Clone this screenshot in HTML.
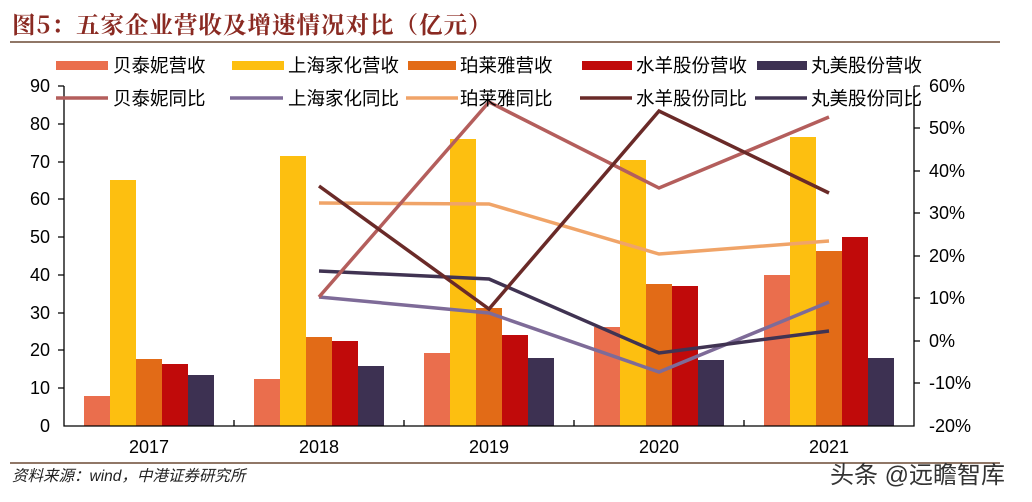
<!DOCTYPE html>
<html><head><meta charset="utf-8"><style>
body{margin:0;background:#fff;}
svg{display:block;font-family:"Liberation Sans","Noto Sans CJK SC",sans-serif;}
</style></head><body>
<svg width="1032" height="502" viewBox="0 0 1032 502">
<text x="12" y="33" font-size="23.5" font-weight="bold" fill="#8a2a22" letter-spacing="1" font-family="'Noto Serif CJK SC','Liberation Serif',serif">图5：五家企业营收及增速情况对比（亿元）</text>
<line x1="10" y1="42" x2="1000" y2="42" stroke="#6b4a35" stroke-width="1.5"/>
<line x1="10" y1="463" x2="1000" y2="463" stroke="#6b4a35" stroke-width="1.5"/>
<text x="12" y="481" font-size="15.5" font-style="italic" fill="#222">资料来源：wind，中港证券研究所</text>
<text x="830" y="483" font-size="24" fill="#333">头条 @远瞻智库</text>
<g>
<rect x="84" y="396" width="26" height="30" fill="#ea6e4d"/>
<rect x="110" y="180" width="26" height="246" fill="#fdbf10"/>
<rect x="136" y="359" width="26" height="67" fill="#e26b17"/>
<rect x="162" y="364" width="26" height="62" fill="#c00a0a"/>
<rect x="188" y="375" width="26" height="51" fill="#3d3152"/>
<rect x="254" y="379" width="26" height="47" fill="#ea6e4d"/>
<rect x="280" y="156" width="26" height="270" fill="#fdbf10"/>
<rect x="306" y="337" width="26" height="89" fill="#e26b17"/>
<rect x="332" y="341" width="26" height="85" fill="#c00a0a"/>
<rect x="358" y="366" width="26" height="60" fill="#3d3152"/>
<rect x="424" y="353" width="26" height="73" fill="#ea6e4d"/>
<rect x="450" y="139" width="26" height="287" fill="#fdbf10"/>
<rect x="476" y="308" width="26" height="118" fill="#e26b17"/>
<rect x="502" y="335" width="26" height="91" fill="#c00a0a"/>
<rect x="528" y="358" width="26" height="68" fill="#3d3152"/>
<rect x="594" y="327" width="26" height="99" fill="#ea6e4d"/>
<rect x="620" y="160" width="26" height="266" fill="#fdbf10"/>
<rect x="646" y="284" width="26" height="142" fill="#e26b17"/>
<rect x="672" y="286" width="26" height="140" fill="#c00a0a"/>
<rect x="698" y="360" width="26" height="66" fill="#3d3152"/>
<rect x="764" y="275" width="26" height="151" fill="#ea6e4d"/>
<rect x="790" y="137" width="26" height="289" fill="#fdbf10"/>
<rect x="816" y="251" width="26" height="175" fill="#e26b17"/>
<rect x="842" y="237" width="26" height="189" fill="#c00a0a"/>
<rect x="868" y="358" width="26" height="68" fill="#3d3152"/>
</g>
<g stroke="#000" stroke-width="1.3" fill="none">
<path d="M64,86 V426 H914 V86"/>
<path d="M58,86H64M58,124H64M58,162H64M58,199H64M58,237H64M58,275H64M58,313H64M58,350H64M58,388H64"/>
<path d="M914,86H920M914,128H920M914,171H920M914,213H920M914,256H920M914,298H920M914,341H920M914,383H920"/>
<path d="M234,426V420M404,426V420M574,426V420M744,426V420"/>
</g>
<g font-size="18" fill="#000" text-anchor="end">
<text x="50" y="92">90</text><text x="50" y="130">80</text><text x="50" y="168">70</text><text x="50" y="205">60</text><text x="50" y="243">50</text><text x="50" y="281">40</text><text x="50" y="319">30</text><text x="50" y="356">20</text><text x="50" y="394">10</text><text x="50" y="432">0</text>
</g>
<g font-size="18" fill="#000">
<text x="929" y="92">60%</text><text x="929" y="134">50%</text><text x="929" y="177">40%</text><text x="929" y="219">30%</text><text x="929" y="262">20%</text><text x="929" y="304">10%</text><text x="929" y="347">0%</text><text x="929" y="389">-10%</text><text x="929" y="432">-20%</text>
</g>
<g font-size="18" fill="#000" text-anchor="middle">
<text x="149" y="453">2017</text><text x="319" y="453">2018</text><text x="489" y="453">2019</text><text x="659" y="453">2020</text><text x="829" y="453">2021</text>
</g>
<g fill="none" stroke-width="3.5">
<polyline stroke="#f0a468" points="319,203 489,204 659,254 829,241"/>
<polyline stroke="#7e6b98" points="319,297 489,313 659,372 829,302"/>
<polyline stroke="#403352" points="319,271 489,279 659,353 829,331"/>
<polyline stroke="#b45e5c" points="319,297 489,102 659,188 829,117"/>
<polyline stroke="#6a2a28" points="319,186 489,309 659,111 829,193"/>
</g>
<g font-size="18.5" fill="#000">
<rect x="56" y="61" width="52" height="9" fill="#ea6e4d"/><text x="113" y="72">贝泰妮营收</text>
<rect x="232" y="61" width="52" height="9" fill="#fdbf10"/><text x="288" y="72">上海家化营收</text>
<rect x="408" y="61" width="48" height="9" fill="#e26b17"/><text x="460" y="72">珀莱雅营收</text>
<rect x="582" y="61" width="50" height="9" fill="#c00a0a"/><text x="636" y="72">水羊股份营收</text>
<rect x="757" y="61" width="50" height="9" fill="#3d3152"/><text x="811" y="72">丸美股份营收</text>
<line x1="56" y1="98" x2="108" y2="98" stroke="#b45e5c" stroke-width="3.5"/><text x="113" y="105">贝泰妮同比</text>
<line x1="230" y1="98" x2="283" y2="98" stroke="#7e6b98" stroke-width="3.5"/><text x="288" y="105">上海家化同比</text>
<line x1="406" y1="98" x2="458" y2="98" stroke="#f0a468" stroke-width="3.5"/><text x="460" y="105">珀莱雅同比</text>
<line x1="580" y1="98" x2="632" y2="98" stroke="#6a2a28" stroke-width="3.5"/><text x="636" y="105">水羊股份同比</text>
<line x1="755" y1="98" x2="807" y2="98" stroke="#403352" stroke-width="3.5"/><text x="811" y="105">丸美股份同比</text>
</g>
</svg>
</body></html>
